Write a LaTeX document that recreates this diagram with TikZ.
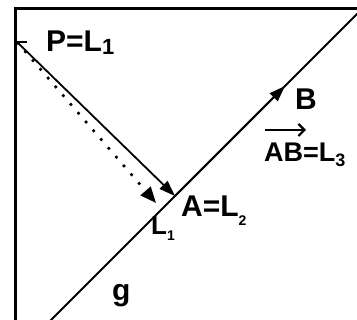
\documentclass[tikz,border=0pt]{standalone}
\usepackage{fontspec}
\setmainfont{Liberation Sans}
\usetikzlibrary{arrows.meta}
\newcommand\mysub[3]{\raisebox{-#2pt}{\fontsize{#1}{#1}\selectfont #3}}
\tikzset{
  frame/.style={line width=3pt},
  gline/.style={line width=1.8pt},
  vecline/.style={line width=1.8pt,-{Triangle[length=16pt,width=11pt]}},
  dotline/.style={line width=2.6pt,dash pattern=on 2.6pt off 9pt,-{Triangle[length=16pt,width=13pt]}},
  lab/.style={anchor=base west,inner sep=0pt,font=\bfseries\fontsize{30}{30}\selectfont},
  smalllab/.style={anchor=base west,inner sep=0pt,font=\bfseries\fontsize{27}{27}\selectfont},
}
\begin{document}
\begin{tikzpicture}[x=1pt,y=-1pt]
\useasboundingbox (0,0) rectangle (357,320);
% frame
\coordinate (fBL) at (15.5,320);
\coordinate (fTL) at (15.5,8.5);
\coordinate (fTR) at (357,8.5);
\draw[frame] (fBL) -- (fTL) -- (fTR);
% points
\coordinate (P) at (17,42);
\coordinate (Ptick) at (27,42);
\coordinate (A) at (175,196);
\coordinate (L1pt) at (156,203);
\coordinate (B) at (285,86);
\coordinate (gS) at (50,321);
\coordinate (gE) at (358,13);
% line g
\draw[gline] (gS) -- (gE);
% tick at P
\draw[line width=2.5pt] (fTL |- P) -- (Ptick);
% P -> A
\draw[vecline] (P) -- (A);
% dotted P -> L1
\draw[dotline] (P) -- (L1pt);
% A -> B along g
\draw[vecline] (A) -- (B);
% labels
\node[lab] (labP) at (46,52) {P=L\mysub{22}{3}{1}};
\node[lab] (labA) at (181,217) {A=L\mysub{14}{9}{2}};
\node[lab] (labB) at (295,110) {B};
\node[smalllab] (labAB) at (264,162) {AB=L\mysub{18}{5}{3}};
\coordinate (vecS) at (265,130);
\coordinate (vecE) at (306,130);
\draw[line width=2.2pt,-{Straight Barb[length=6pt,width=12pt]}] (vecS) -- (vecE);
\node[smalllab,font=\bfseries\fontsize{26}{26}\selectfont] (labL1) at (151,235) {L\mysub{14}{6}{1}};
\node[lab] (labg) at (112,301) {g};
\end{tikzpicture}
\end{document}
